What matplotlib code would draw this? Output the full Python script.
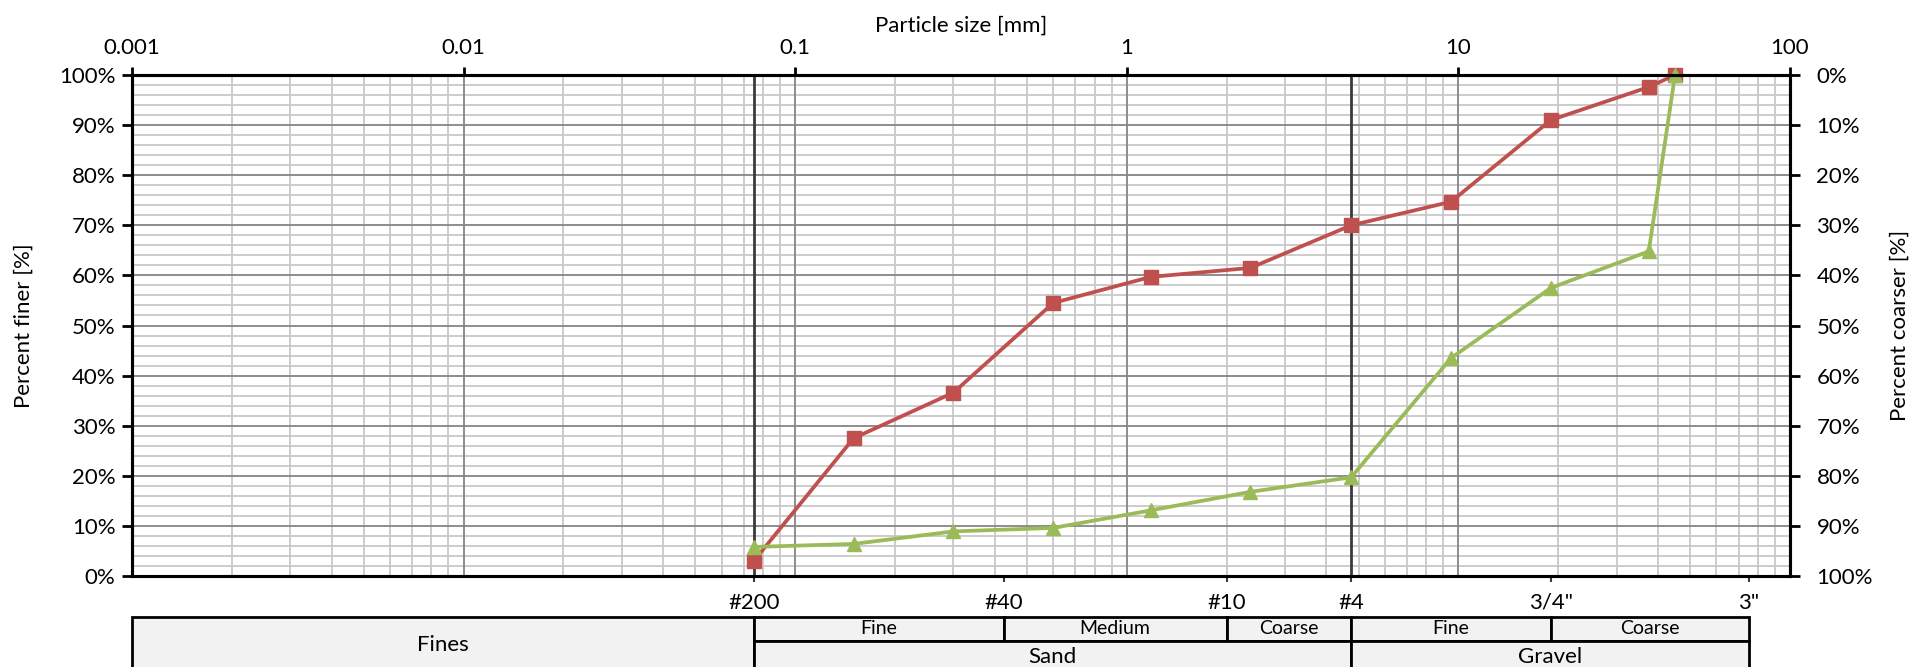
import matplotlib
matplotlib.use("Agg")
import matplotlib.pyplot as plt
from matplotlib.patches import Rectangle
from matplotlib.ticker import FixedLocator, NullFormatter
import numpy as np

# sieve openings [mm] and percent finer of the two samples
tamanhos = [0.075, 0.15, 0.30, 0.60, 1.18, 2.36, 4.75, 9.5, 19.0, 37.5, 45.0]
passante_vermelho = [3.0, 27.5, 36.6, 54.5, 59.7, 61.5, 70.0, 74.7, 91.0, 97.6, 100.0]
passante_verde = [5.8, 6.4, 8.9, 9.6, 13.1, 16.8, 19.7, 43.5, 57.5, 64.8, 100.0]

# sieve names on the bottom axis
peneiras = [0.075, 0.425, 2.0, 4.75, 19.0, 75.0]
nomes_peneiras = ["#200", "#40", "#10", "#4", '3/4"', '3"']

# classification table (left, right, label)
linha_cima = [(0.075, 0.425, "Fine"), (0.425, 2.0, "Medium"), (2.0, 4.75, "Coarse"),
              (4.75, 19.0, "Fine"), (19.0, 75.0, "Coarse")]
linha_baixo = [(0.075, 4.75, "Sand"), (4.75, 75.0, "Gravel")]
finos = (0.001, 0.075, "Fines")

plt.rcParams["font.family"] = ["Lato", "DejaVu Sans"]
plt.rcParams["font.size"] = 15

fs = 16
W, H = 1916, 667
x0, x1, y_top, y_bot = 132, 1790, 75, 576
fig = plt.figure(figsize=(W / 100, H / 100), dpi=100)
ax = fig.add_axes([x0 / W, (H - y_bot) / H, (x1 - x0) / W, (y_bot - y_top) / H])

ax.set_xscale("log")
ax.set_xlim(0.001, 100)
ax.set_ylim(0, 100)

# grid
cinza_claro = "#c8c8c8"
cinza_escuro = "#858585"
menores_x = [m * 10.0 ** d for d in range(-3, 2) for m in range(2, 10)]
for xv in menores_x:
    ax.axvline(xv, color=cinza_claro, lw=1.3, zorder=0)
for d in range(-2, 2):
    ax.axvline(10.0 ** d, color=cinza_escuro, lw=1.3, zorder=0.5)
for yv in np.arange(2, 100, 2):
    cor = cinza_escuro if yv % 10 == 0 else cinza_claro
    ax.axhline(yv, color=cor, lw=1.3, zorder=0.3 if yv % 10 else 0.5)
ax.axvline(0.075, color="#3a3a3a", lw=2, zorder=1)
ax.axvline(4.75, color="#3a3a3a", lw=2, zorder=1)

# curves
ax.plot(tamanhos, passante_vermelho, "-s", color="#C0504D", lw=2.7, ms=10.5,
        clip_on=False, zorder=3)
ax.plot(tamanhos, passante_verde, "-^", color="#9BBB59", lw=2.7, ms=10.5,
        clip_on=False, zorder=4)

for s in ax.spines.values():
    s.set_linewidth(2.2)
    s.set_zorder(5)

# top axis: particle size
ax.xaxis.set_ticks_position("top")
ax.xaxis.set_label_position("top")
ax.set_xticks([0.001, 0.01, 0.1, 1, 10, 100])
ax.set_xticklabels(["0.001", "0.01", "0.1", "1", "10", "100"])
ax.xaxis.set_minor_locator(FixedLocator([]))
ax.xaxis.set_minor_formatter(NullFormatter())
ax.tick_params(axis="x", which="major", direction="out", length=6, width=2, pad=6,
               labelsize=fs)
ax.set_xlabel("Particle size [mm]", fontsize=fs, labelpad=5)

# left axis
ax.set_yticks(np.arange(0, 101, 10))
ax.set_yticklabels([f"{v}%" for v in range(0, 101, 10)])
ax.tick_params(axis="y", direction="out", length=7, width=2, pad=5, labelsize=fs)
ax.set_ylabel("Percent finer [%]", fontsize=fs, labelpad=18)

# right axis
ax2 = ax.twinx()
ax2.set_ylim(100, 0)
ax2.set_yticks(np.arange(0, 101, 10))
ax2.set_yticklabels([f"{v}%" for v in range(0, 101, 10)])
ax2.tick_params(axis="y", direction="out", length=7, width=2, pad=12, labelsize=fs)
ax2.set_ylabel("Percent coarser [%]", fontsize=fs, labelpad=12, rotation=90)
for s in ax2.spines.values():
    s.set_linewidth(2.2)

# bottom axis: sieve numbers
sec = ax.secondary_xaxis("bottom")
sec.set_xticks(peneiras)
sec.set_xticklabels(nomes_peneiras)
sec.xaxis.set_minor_locator(FixedLocator([]))
sec.tick_params(axis="x", direction="out", length=4, width=1.5, color="#3a3a3a",
                pad=8, labelsize=fs)
sec.spines["bottom"].set_visible(False)

# classification table
t_top, t_mid, t_bot = 617, 641, 673
tab = fig.add_axes([x0 / W, (H - t_bot) / H, (x1 - x0) / W, (t_bot - t_top) / H])
tab.set_xscale("log")
tab.set_xlim(0.001, 100)
tab.set_ylim(t_bot, t_top)
tab.axis("off")

def celula(a, b, ya, yb, texto, tam):
    tab.add_patch(Rectangle((a, ya), b - a, yb - ya, facecolor="#f2f2f2",
                            edgecolor="black", lw=2, clip_on=False))
    xm = np.sqrt(a * b)
    tab.text(xm, (ya + yb) / 2, texto, ha="center", va="center", fontsize=tam)

celula(finos[0], finos[1], t_top, t_bot, finos[2], fs)
for a, b, txt in linha_cima:
    celula(a, b, t_top, t_mid, txt, 14)
for a, b, txt in linha_baixo:
    celula(a, b, t_mid, t_bot, txt, fs)

fig.savefig("out.png", dpi=100)
